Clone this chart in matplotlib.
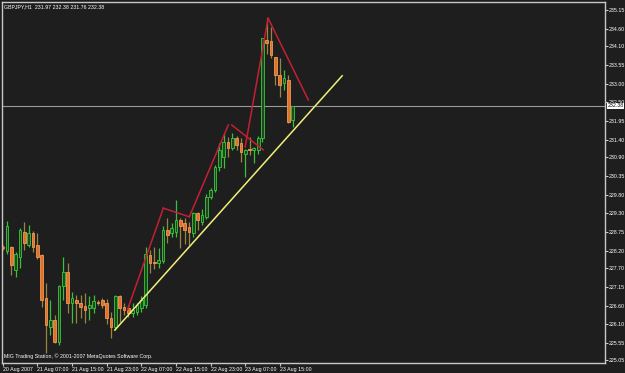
import matplotlib
matplotlib.use("Agg")
import matplotlib.pyplot as plt
import matplotlib.transforms as mtransforms

# GBPJPY H1 bars, 20 Aug 23:00 .. 23 Aug 18:00
opens = [228.30, 228.18, 228.32, 227.65, 228.03, 228.75, 228.37, 228.71, 228.37, 228.08,
         226.83, 226.01, 226.20, 225.58, 227.17, 227.60, 226.68, 226.78, 226.68, 226.60,
         226.54, 226.54, 226.71, 226.78, 226.68, 226.25, 226.01, 226.88, 226.59, 226.54,
         226.40, 226.44, 226.54, 226.64, 228.08, 227.88, 227.84, 227.89, 228.80, 228.71,
         228.75, 229.09, 229.00, 228.88, 228.71, 229.28, 229.02, 229.18, 229.76, 229.96,
         230.63, 230.92, 231.35, 231.16, 231.45, 231.30, 231.00, 231.11, 231.11, 231.11,
         231.45, 234.28, 234.24, 233.80, 233.27, 233.03, 233.13, 231.97]
highs = [228.36, 229.05, 228.35, 228.15, 228.85, 229.04, 228.95, 228.76, 228.71, 228.10,
         227.26, 226.78, 226.35, 227.20, 228.03, 227.84, 227.02, 226.93, 226.93, 226.98,
         226.88, 226.93, 226.78, 226.83, 226.80, 226.44, 226.93, 226.93, 226.68, 226.63,
         226.68, 226.68, 226.88, 228.32, 228.22, 228.32, 228.27, 228.90, 229.14, 229.00,
         229.67, 229.14, 229.14, 229.02, 229.33, 229.33, 229.40, 229.85, 230.00, 230.68,
         231.30, 231.60, 231.49, 231.60, 231.50, 231.45, 231.15, 231.49, 231.20, 231.50,
         234.35, 234.91, 234.66, 233.80, 233.75, 233.42, 233.27, 232.38]
lows = [228.22, 228.10, 227.50, 227.45, 227.70, 228.22, 228.30, 228.15, 227.95, 226.58,
        225.24, 225.77, 225.55, 225.48, 226.78, 226.40, 226.11, 226.11, 226.25, 226.11,
        226.20, 226.40, 226.64, 226.56, 226.10, 225.67, 225.90, 226.15, 226.35, 226.30,
        226.30, 226.35, 226.44, 226.55, 227.55, 227.66, 227.70, 227.84, 228.42, 228.60,
        228.60, 228.27, 228.40, 228.38, 228.60, 228.80, 228.95, 229.13, 229.70, 229.90,
        230.50, 230.60, 230.90, 231.10, 231.10, 230.75, 230.34, 230.97, 230.72, 231.00,
        231.35, 233.87, 233.76, 232.99, 232.63, 232.84, 231.88, 231.76]
closes = [228.27, 228.90, 227.79, 228.10, 228.80, 228.42, 228.71, 228.32, 228.03, 226.78,
          226.06, 226.20, 225.58, 227.17, 227.60, 226.68, 226.83, 226.68, 226.59, 226.49,
          226.64, 226.75, 226.70, 226.64, 226.25, 226.01, 226.88, 226.54, 226.49, 226.40,
          226.49, 226.64, 226.78, 228.10, 227.84, 227.84, 227.93, 228.80, 228.66, 228.85,
          229.09, 228.90, 228.80, 228.73, 229.28, 229.09, 229.23, 229.76, 229.96, 230.63,
          231.11, 231.35, 231.16, 231.45, 231.25, 231.06, 231.11, 231.10, 231.16, 231.45,
          234.33, 234.19, 233.85, 233.27, 232.99, 233.18, 231.93, 232.38]

# hand drawn red lines (bar index, price)
red_segments = [((28.8, 226.49), (37.1, 229.43)),
                ((37.1, 229.43), (43.1, 229.18)),
                ((43.1, 229.18), (52.1, 231.83)),
                ((52.9, 231.83), (60.2, 231.11)),
                ((56.0, 231.20), (61.3, 234.91)),
                ((61.3, 234.91), (70.6, 232.55))]
trend_x = [25.9, 78.4]
trend_y = [225.91, 233.25]
last_price = 232.38

price_ticks = [235.15, 234.60, 234.10, 233.55, 233.00, 232.50, 231.95, 231.40, 230.90, 230.35,
               229.80, 229.30, 228.75, 228.20, 227.70, 227.15, 226.60, 226.10, 225.55, 225.05]
time_ticks = [0, 8, 16, 24, 32, 40, 48, 56, 64]
time_labels = ["20 Aug 2007", "21 Aug 07:00", "21 Aug 15:00", "21 Aug 23:00", "22 Aug 07:00",
               "22 Aug 15:00", "22 Aug 23:00", "23 Aug 07:00", "23 Aug 15:00"]

bg = "#1e1e1e"
frame = "#c8c8c8"
fs = 3.8

plt.rcParams["font.family"] = ["Liberation Sans", "DejaVu Sans"]

fig = plt.figure(figsize=(6.25, 3.73), dpi=100, facecolor=bg)
ax = fig.add_axes([2 / 625, 1 - 363 / 373, 603 / 625, 361 / 373], facecolor=bg)

# candles
for i in range(len(opens)):
	o, h, l, c = opens[i], highs[i], lows[i], closes[i]
	if c >= o:
		wick, face, edge = "#3cbf3c", "#1d4a1d", "#3cc83c"
	else:
		wick, face, edge = "#9a8445", "#e0702a", "#f09a55"
	ax.vlines(i, l, h, colors=wick, linewidth=0.9, zorder=2)
	body = max(abs(c - o), 0.03)
	ax.bar(i, body, bottom=min(o, c), width=0.62, color=face, edgecolor=edge,
	       linewidth=0.6, zorder=3)

for (x0, y0), (x1, y1) in red_segments:
	ax.plot([x0, x1], [y0, y1], color="#c42033", linewidth=1.1, zorder=4)

ax.plot(trend_x, trend_y, color="#f0f07a", linewidth=1.1, zorder=4)
ax.axhline(last_price, color="#9a9a9a", linewidth=0.8, zorder=1)

ax.set_xlim(-0.16, 139.1)
ax.set_ylim(224.96, 235.38)

for s in ax.spines.values():
	s.set_color(frame)
	s.set_linewidth(1)

ax.yaxis.tick_right()
ax.set_yticks(price_ticks)
ax.set_yticklabels(["%.2f" % p for p in price_ticks])
ax.tick_params(axis="y", colors=frame, labelcolor="white", labelsize=fs, length=2, pad=0.5)

ax.set_xticks(time_ticks)
ax.set_xticklabels(time_labels, ha="left")
ax.tick_params(axis="x", colors=frame, labelcolor="white", labelsize=fs, length=2.5, pad=0.5)

# current price box
trans = mtransforms.blended_transform_factory(ax.transAxes, ax.transData)
ax.text(1.004, last_price, "%.2f" % last_price, transform=trans, ha="left", va="center",
        fontsize=fs, color="black", zorder=10,
        bbox=dict(facecolor="white", edgecolor="none", pad=0.5), clip_on=False)

fig.text(4 / 625, 1 - 7 / 373, "GBPJPY,H1  231.97 232.38 231.76 232.38", color="white",
         fontsize=fs, ha="left", va="center")
ax.text(0.003, 0.012, "MIG Trading Station, \u00a9 2001-2007 MetaQuotes Software Corp.",
        transform=ax.transAxes, color="white", fontsize=fs, ha="left", va="bottom")

fig.savefig("out.png", dpi=100, facecolor=bg)
